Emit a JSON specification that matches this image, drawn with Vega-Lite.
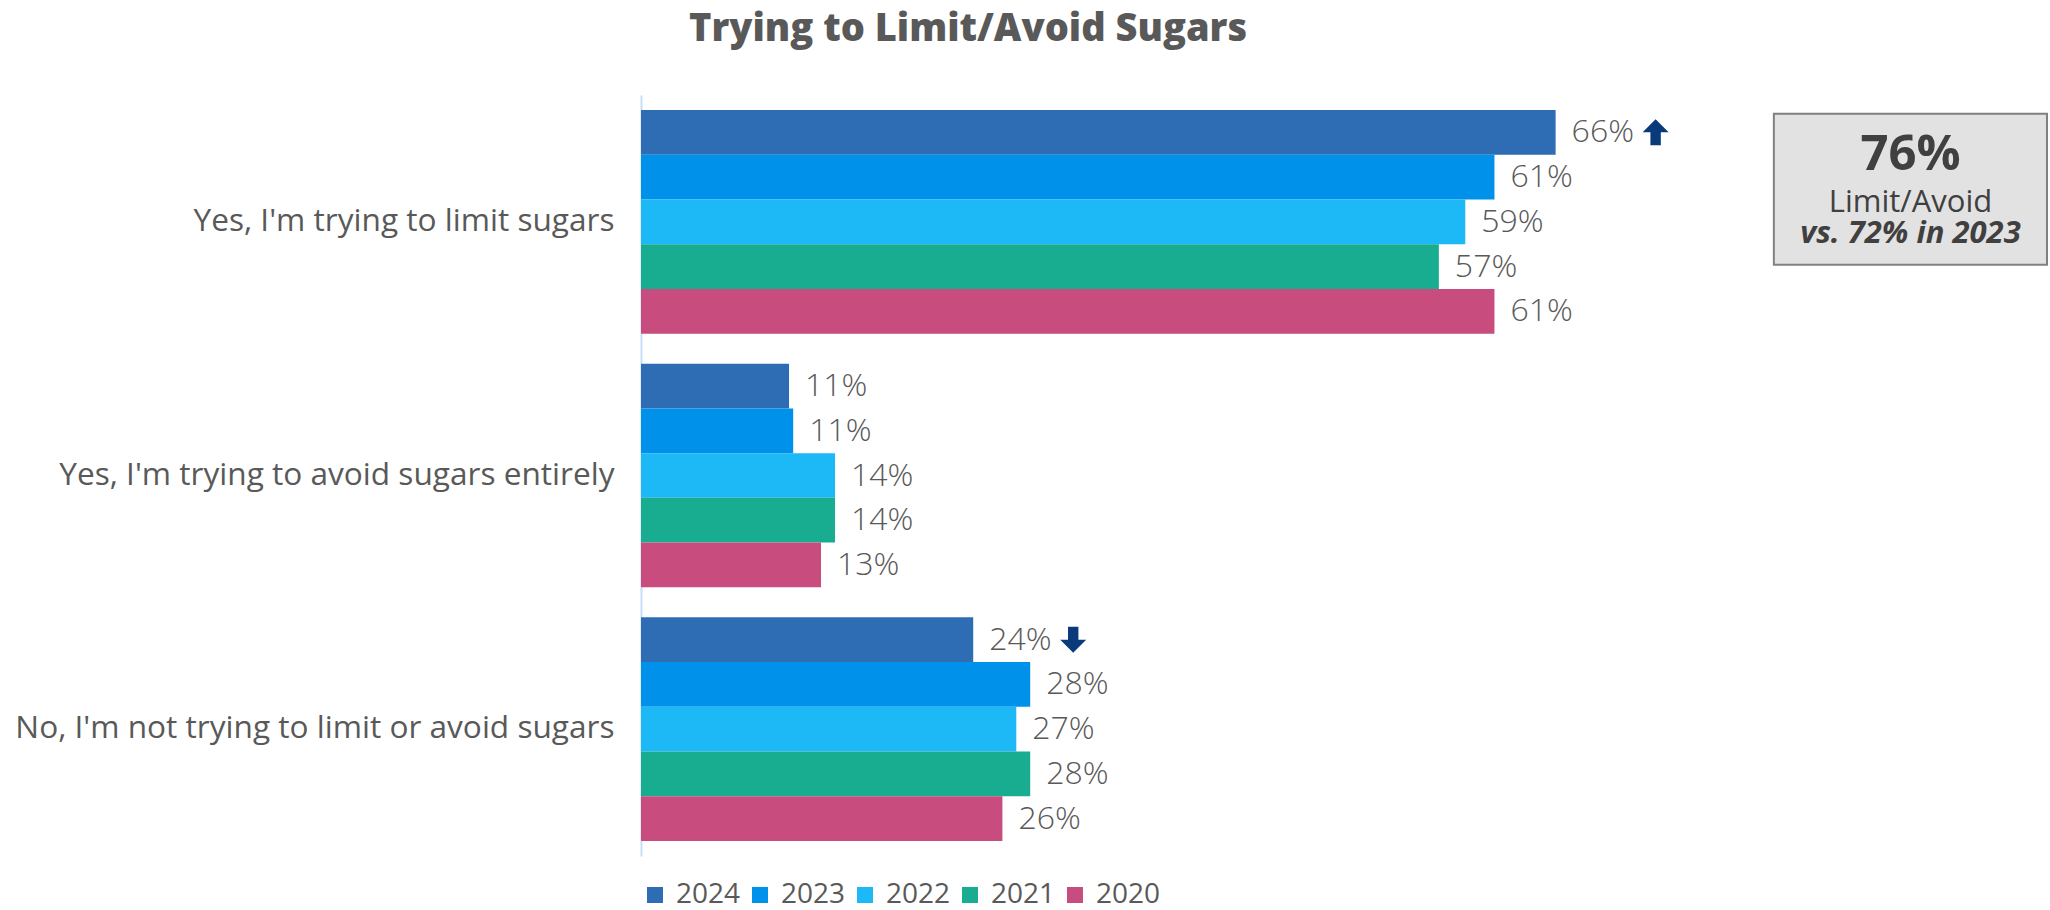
{
  "$schema": "https://vega.github.io/schema/vega-lite/v6.json",
  "autosize": {"type": "none"},
  "padding": {"left": 641, "top": 95, "right": 19, "bottom": 54},
  "width": 1390,
  "height": 761,
  "config": {"view": {"stroke": null}, "font": "Open Sans"},
  "title": {
    "text": "Trying to Limit/Avoid Sugars",
    "anchor": "start",
    "frame": "group",
    "dx": 48,
    "fontSize": 38,
    "fontWeight": 800,
    "color": "#595959",
    "font": "Open Sans",
    "offset": 46
  },
  "datasets": {
    "bars": [
      {"cat": "Yes, I'm trying to limit sugars", "year": "2024", "value": 0.658, "change": "up"},
      {"cat": "Yes, I'm trying to limit sugars", "year": "2023", "value": 0.614},
      {"cat": "Yes, I'm trying to limit sugars", "year": "2022", "value": 0.593},
      {"cat": "Yes, I'm trying to limit sugars", "year": "2021", "value": 0.574},
      {"cat": "Yes, I'm trying to limit sugars", "year": "2020", "value": 0.614},
      {"cat": "Yes, I'm trying to avoid sugars entirely", "year": "2024", "value": 0.1065},
      {"cat": "Yes, I'm trying to avoid sugars entirely", "year": "2023", "value": 0.1095},
      {"cat": "Yes, I'm trying to avoid sugars entirely", "year": "2022", "value": 0.1396},
      {"cat": "Yes, I'm trying to avoid sugars entirely", "year": "2021", "value": 0.1396},
      {"cat": "Yes, I'm trying to avoid sugars entirely", "year": "2020", "value": 0.1295},
      {"cat": "No, I'm not trying to limit or avoid sugars", "year": "2024", "value": 0.239, "change": "down"},
      {"cat": "No, I'm not trying to limit or avoid sugars", "year": "2023", "value": 0.28},
      {"cat": "No, I'm not trying to limit or avoid sugars", "year": "2022", "value": 0.27},
      {"cat": "No, I'm not trying to limit or avoid sugars", "year": "2021", "value": 0.28},
      {"cat": "No, I'm not trying to limit or avoid sugars", "year": "2020", "value": 0.26}
    ],
    "box": [
      {"cat": "Yes, I'm trying to limit sugars", "left": 0.815, "right": 1.0115, "center": 0.9133, "big": "76%", "mid": "Limit/Avoid", "small": "vs. 72% in 2023"}
    ]
  },
  "encoding": {
    "y": {
      "field": "cat",
      "type": "nominal",
      "sort": ["Yes, I'm trying to limit sugars", "Yes, I'm trying to avoid sugars entirely", "No, I'm not trying to limit or avoid sugars"],
      "scale": {"paddingInner": 0.118, "paddingOuter": 0.059},
      "axis": {
        "title": null,
        "ticks": false,
        "labelFontSize": 31.6,
        "labelColor": "#595959",
        "labelFont": "Open Sans",
        "labelPadding": 27,
        "labelLimit": 0,
        "domainColor": "#C9DEF7",
        "domainWidth": 2,
        "grid": false
      }
    }
  },
  "layer": [
    {
      "data": {"name": "bars"},
      "mark": {"type": "bar"},
      "encoding": {
        "x": {"field": "value", "type": "quantitative", "scale": {"domain": [0, 1], "nice": false}, "axis": null},
        "yOffset": {"field": "year", "type": "nominal", "sort": ["2024", "2023", "2022", "2021", "2020"], "scale": {"paddingInner": 0, "paddingOuter": 0}},
        "color": {
          "field": "year",
          "type": "nominal",
          "scale": {"domain": ["2024", "2023", "2022", "2021", "2020"], "range": ["#2E6DB4", "#0091EA", "#1DB8F6", "#18AC91", "#C84C7D"]},
          "legend": {
            "title": null,
            "orient": "bottom",
            "direction": "horizontal",
            "symbolType": "square",
            "symbolSize": 256,
            "symbolStrokeWidth": 0,
            "labelFontSize": 28,
            "labelFont": "Open Sans",
            "labelColor": "#595959",
            "labelOffset": 7,
            "columnPadding": 5,
            "offset": 25
          }
        }
      }
    },
    {
      "data": {"name": "bars"},
      "mark": {"type": "text", "align": "left", "baseline": "middle", "dx": 16, "fontSize": 32, "fontWeight": 300, "color": "#595959", "font": "Open Sans"},
      "encoding": {
        "x": {"field": "value", "type": "quantitative"},
        "yOffset": {"field": "year", "type": "nominal", "sort": ["2024", "2023", "2022", "2021", "2020"]},
        "text": {"field": "value", "type": "quantitative", "format": ".0%"}
      }
    },
    {
      "data": {"name": "bars"},
      "transform": [{"filter": "datum.change != null"}],
      "mark": {"type": "point", "filled": true, "size": 676, "opacity": 1, "xOffset": 100},
      "encoding": {
        "x": {"field": "value", "type": "quantitative"},
        "yOffset": {"field": "year", "type": "nominal", "sort": ["2024", "2023", "2022", "2021", "2020"]},
        "shape": {
          "field": "change",
          "type": "nominal",
          "scale": {"domain": ["up", "down"], "range": ["M0,-1L1,0L0.4,0L0.4,1L-0.4,1L-0.4,0L-1,0Z", "M-0.4,-1L0.4,-1L0.4,0L1,0L0,1L-1,0L-0.4,0Z"]},
          "legend": null
        },
        "color": {"value": "#0B3A7A"}
      }
    },
    {
      "data": {"name": "box"},
      "mark": {"type": "bar", "height": 151, "yOffset": -32.5, "fill": "#E2E2E2", "stroke": "#808080", "strokeWidth": 2},
      "encoding": {
        "x": {"field": "left", "type": "quantitative"},
        "x2": {"field": "right"}
      }
    },
    {
      "data": {"name": "box"},
      "mark": {"type": "text", "align": "center", "baseline": "alphabetic", "dy": -52, "fontSize": 49, "fontWeight": "bold", "color": "#404040", "font": "Open Sans"},
      "encoding": {
        "x": {"field": "center", "type": "quantitative"},
        "text": {"field": "big"}
      }
    },
    {
      "data": {"name": "box"},
      "mark": {"type": "text", "align": "center", "baseline": "alphabetic", "dy": -10, "fontSize": 31, "fontWeight": "normal", "color": "#404040", "font": "Open Sans"},
      "encoding": {
        "x": {"field": "center", "type": "quantitative"},
        "text": {"field": "mid"}
      }
    },
    {
      "data": {"name": "box"},
      "mark": {"type": "text", "align": "center", "baseline": "alphabetic", "dy": 21, "fontSize": 31, "fontWeight": "bold", "fontStyle": "italic", "color": "#404040", "font": "Open Sans"},
      "encoding": {
        "x": {"field": "center", "type": "quantitative"},
        "text": {"field": "small"}
      }
    }
  ]
}
